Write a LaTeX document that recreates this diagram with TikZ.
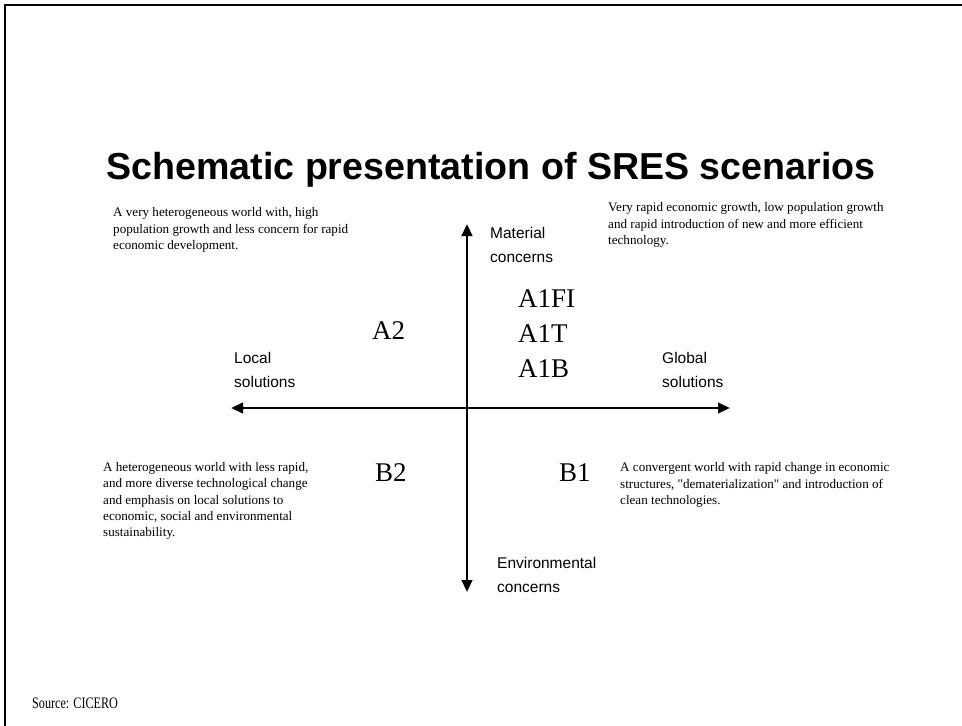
\documentclass[tikz,border=0pt]{standalone}
\usepackage{fontspec}
\setmainfont{Liberation Serif}
\setsansfont{Liberation Sans}
\usetikzlibrary{arrows.meta}
\begin{document}
\begin{tikzpicture}[x=1pt,y=-1pt,
  desc/.style={anchor=west,align=left,inner sep=0pt,font=\fontsize{13.1}{16.4}\selectfont},
  axlabel/.style={anchor=west,align=left,inner sep=0pt,font=\sffamily\fontsize{15.5}{24.5}\selectfont},
  scen/.style={anchor=west,inner sep=0pt,font=\fontsize{27}{35}\selectfont},
  axis/.style={line width=2.6pt,{Triangle[length=12pt,width=10.5pt]}-{Triangle[length=12pt,width=10.5pt]}}]
\useasboundingbox (0,0) rectangle (962,726);
\fill[white] (0,0) rectangle (962,726);
\draw[line width=2pt] (5,726) -- (5,5) -- (962,5);
\node[inner sep=0pt,font=\sffamily\bfseries\fontsize{37.6}{42}\selectfont] (title) at (491,170) {Schematic presentation of SRES scenarios};
\coordinate (top) at (467,224);
\coordinate (bottom) at (467,592);
\coordinate (left) at (231,408);
\coordinate (right) at (730,408);
\draw[axis] (bottom) -- (top);
\draw[axis] (left) -- (right);
\node[desc] (tl) at (113,230) {A very heterogeneous world with, high\\population growth and less concern for rapid\\economic development.};
\node[desc] (tr) at (608,225) {Very rapid economic growth, low population growth\\and rapid introduction of new and more efficient\\technology.};
\node[desc] (bl) at (103,501) {A heterogeneous world with less rapid,\\and more diverse technological change\\and emphasis on local solutions to\\economic, social and environmental\\sustainability.};
\node[desc] (br) at (620,485) {A convergent world with rapid change in economic\\structures, \textquotedbl dematerialization\textquotedbl{} and introduction of\\clean technologies.};
\node[axlabel] (mat) at (490,245) {Material\\concerns};
\node[axlabel] (glob) at (662,370) {Global\\solutions};
\node[axlabel] (loc) at (234,370) {Local\\solutions};
\node[axlabel] (env) at (497,575) {Environmental\\concerns};
\node[scen] (a1fi) at (518,299) {A1FI};
\node[scen] (a1t) at (518,334) {A1T};
\node[scen] (a1b) at (518,369) {A1B};
\node[scen] (a2) at (372,331) {A2};
\node[scen] (b2) at (375,473) {B2};
\node[scen] (b1) at (559,473) {B1};
\node[anchor=west,inner sep=0pt,font=\fontsize{16}{18}\selectfont] (src) at (32,703) {\scalebox{0.76}[1]{Source: CICERO}};
\end{tikzpicture}
\end{document}
